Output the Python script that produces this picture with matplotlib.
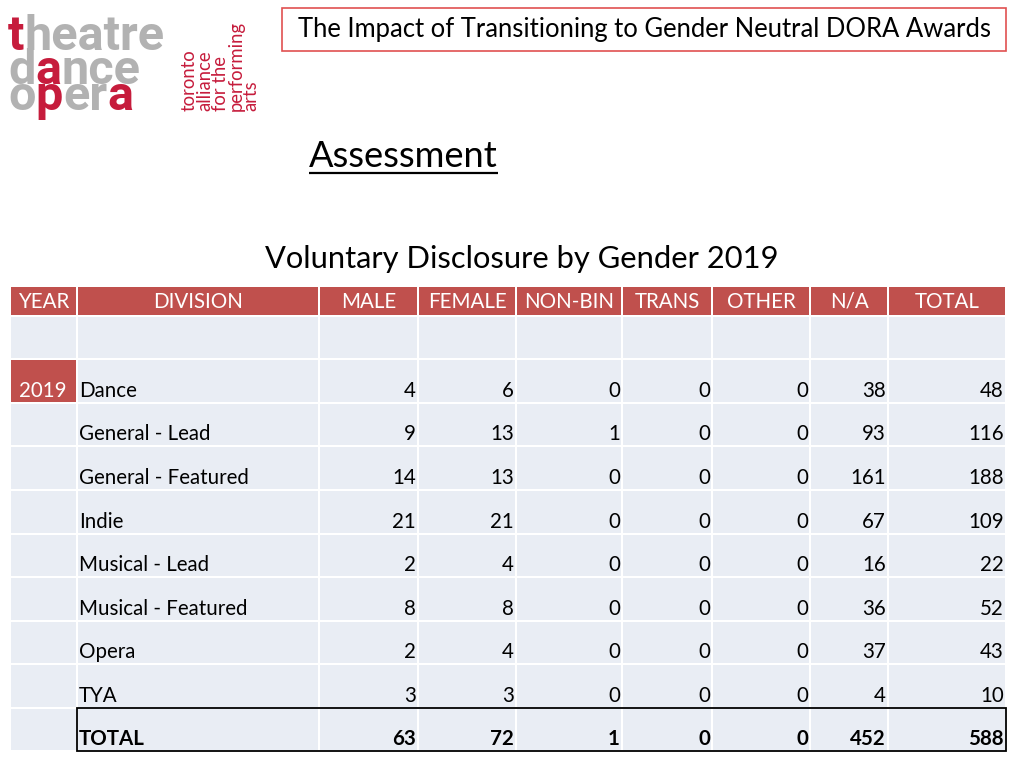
import matplotlib
matplotlib.use("Agg")
import matplotlib.pyplot as plt
from matplotlib.patches import Rectangle

# ---------------- data ----------------
title_text = "The Impact of Transitioning to Gender Neutral DORA Awards"
heading_text = "Assessment"
subtitle_text = "Voluntary Disclosure by Gender 2019"
columns = ["YEAR", "DIVISION", "MALE", "FEMALE", "NON-BIN", "TRANS", "OTHER", "N/A", "TOTAL"]
year_label = "2019"
divisions = ["Dance", "General - Lead", "General - Featured", "Indie",
             "Musical - Lead", "Musical - Featured", "Opera", "TYA"]
male = [4, 9, 14, 21, 2, 8, 2, 3]
female = [6, 13, 13, 21, 4, 8, 4, 3]
nonbin = [0, 1, 0, 0, 0, 0, 0, 0]
trans = [0, 0, 0, 0, 0, 0, 0, 0]
other = [0, 0, 0, 0, 0, 0, 0, 0]
na = [38, 93, 161, 67, 16, 36, 37, 4]
total = [48, 116, 188, 109, 22, 52, 43, 10]
total_label = "TOTAL"
total_row = [63, 72, 1, 0, 0, 452, 588]

logo_words = [[("t", "r"), ("heatre", "g")],
              [("d", "g"), ("a", "r"), ("nce", "g")],
              [("o", "g"), ("p", "r"), ("er", "g"), ("a", "r")]]
logo_side = ["toronto", "alliance", "for the", "performing", "arts"]

# ---------------- style ----------------
RED_HDR = "#c0504d"
CELL = "#e9edf4"
LOGO_RED = "#c61c3c"
LOGO_GREY = "#b2b2b2"
FONT = "Lato"

fig = plt.figure(figsize=(10.24, 7.68), dpi=100)
ax = fig.add_axes([0, 0, 1, 1])
ax.set_xlim(0, 1024)
ax.set_ylim(768, 0)
ax.axis("off")
fig.patch.set_facecolor("white")
fig.canvas.draw()
renderer = fig.canvas.get_renderer()


def width_of(t):
    return t.get_window_extent(renderer).width


def fit(t, target):
    w = width_of(t)
    t.set_fontsize(t.get_fontsize() * target / w)


# ---------------- logo ----------------
logo_base = [50, 84, 110]
for line, base in zip(logo_words, logo_base):
    x = 8
    for txt, c in line:
        t = ax.text(x, base, txt, fontsize=35, fontweight="bold", family="Roboto",
                    color=LOGO_RED if c == "r" else LOGO_GREY, va="baseline", ha="left")
        x += width_of(t)
side_x = [189, 205, 220, 236, 251]
ref = ax.text(0, 0, logo_side[3], fontsize=13, family=FONT, rotation=0)
fit(ref, 90)
side_fs = ref.get_fontsize()
ref.remove()
for s, xx in zip(logo_side, side_x):
    ax.text(xx, 111, s, rotation=90, fontsize=side_fs, family=FONT, color=LOGO_RED,
            ha="center", va="bottom")

# ---------------- title box ----------------
ax.add_patch(Rectangle((282, 8), 724, 43, fill=False, edgecolor="#e05050", lw=1.2))
t = ax.text(644, 29.5, title_text, fontsize=17, family=FONT, ha="center", va="center", color="black")
fit(t, 694)

t = ax.text(309, 167, heading_text, fontsize=24, family=FONT, ha="left", va="baseline", color="black")
fit(t, 189)
ax.plot([309, 498], [173, 173], color="black", lw=1.6, solid_capstyle="butt")

t = ax.text(522, 268, subtitle_text, fontsize=18, family=FONT, ha="center", va="baseline", color="black")
fit(t, 512)

# ---------------- table ----------------
xe = [10, 77, 319, 418, 516, 622, 712, 810, 888, 1006]
ye = [287, 316, 359, 403, 446, 490, 534, 577, 621, 664, 708, 751]
g = 1.0
TS = 14.8

# header
for i, name in enumerate(columns):
    ax.add_patch(Rectangle((xe[i] + g, ye[0]), xe[i + 1] - xe[i] - 2 * g, ye[1] - ye[0] - g,
                           facecolor=RED_HDR, edgecolor="none"))
    ax.text((xe[i] + xe[i + 1]) / 2, 308, name, fontsize=TS, family=FONT, color="white",
            ha="center", va="baseline")

# body cells
nrows = len(ye) - 2
for r in range(nrows):
    y0, y1 = ye[r + 1], ye[r + 2]
    for i in range(len(columns)):
        fc = CELL
        if r == 1 and i == 0:
            fc = RED_HDR
        ax.add_patch(Rectangle((xe[i] + g, y0 + g), xe[i + 1] - xe[i] - 2 * g, y1 - y0 - 2 * g,
                               facecolor=fc, edgecolor="none"))

ax.text(xe[1] - 10, ye[3] - 6, year_label, fontsize=TS, family=FONT, color="white",
        ha="right", va="baseline")

value_cols = [male, female, nonbin, trans, other, na, total]
for k, div in enumerate(divisions):
    base = ye[k + 3] - 6
    ax.text(xe[1] + 2, base, div, fontsize=TS, family=FONT, color="black", ha="left", va="baseline")
    for j, col in enumerate(value_cols):
        ax.text(xe[j + 3] - 2, base, str(col[k]), fontsize=TS, family=FONT, color="black",
                ha="right", va="baseline")

base = ye[-1] - 6
ax.text(xe[1] + 2, base, total_label, fontsize=TS, family=FONT, fontweight="bold",
        color="black", ha="left", va="baseline")
for j, v in enumerate(total_row):
    ax.text(xe[j + 3] - 2, base, str(v), fontsize=TS, family=FONT, fontweight="bold",
            color="black", ha="right", va="baseline")
ax.add_patch(Rectangle((xe[1], ye[-2]), xe[-1] - xe[1], ye[-1] - ye[-2], fill=False,
                       edgecolor="black", lw=1.3))

fig.savefig("out.png", dpi=100, facecolor="white")
